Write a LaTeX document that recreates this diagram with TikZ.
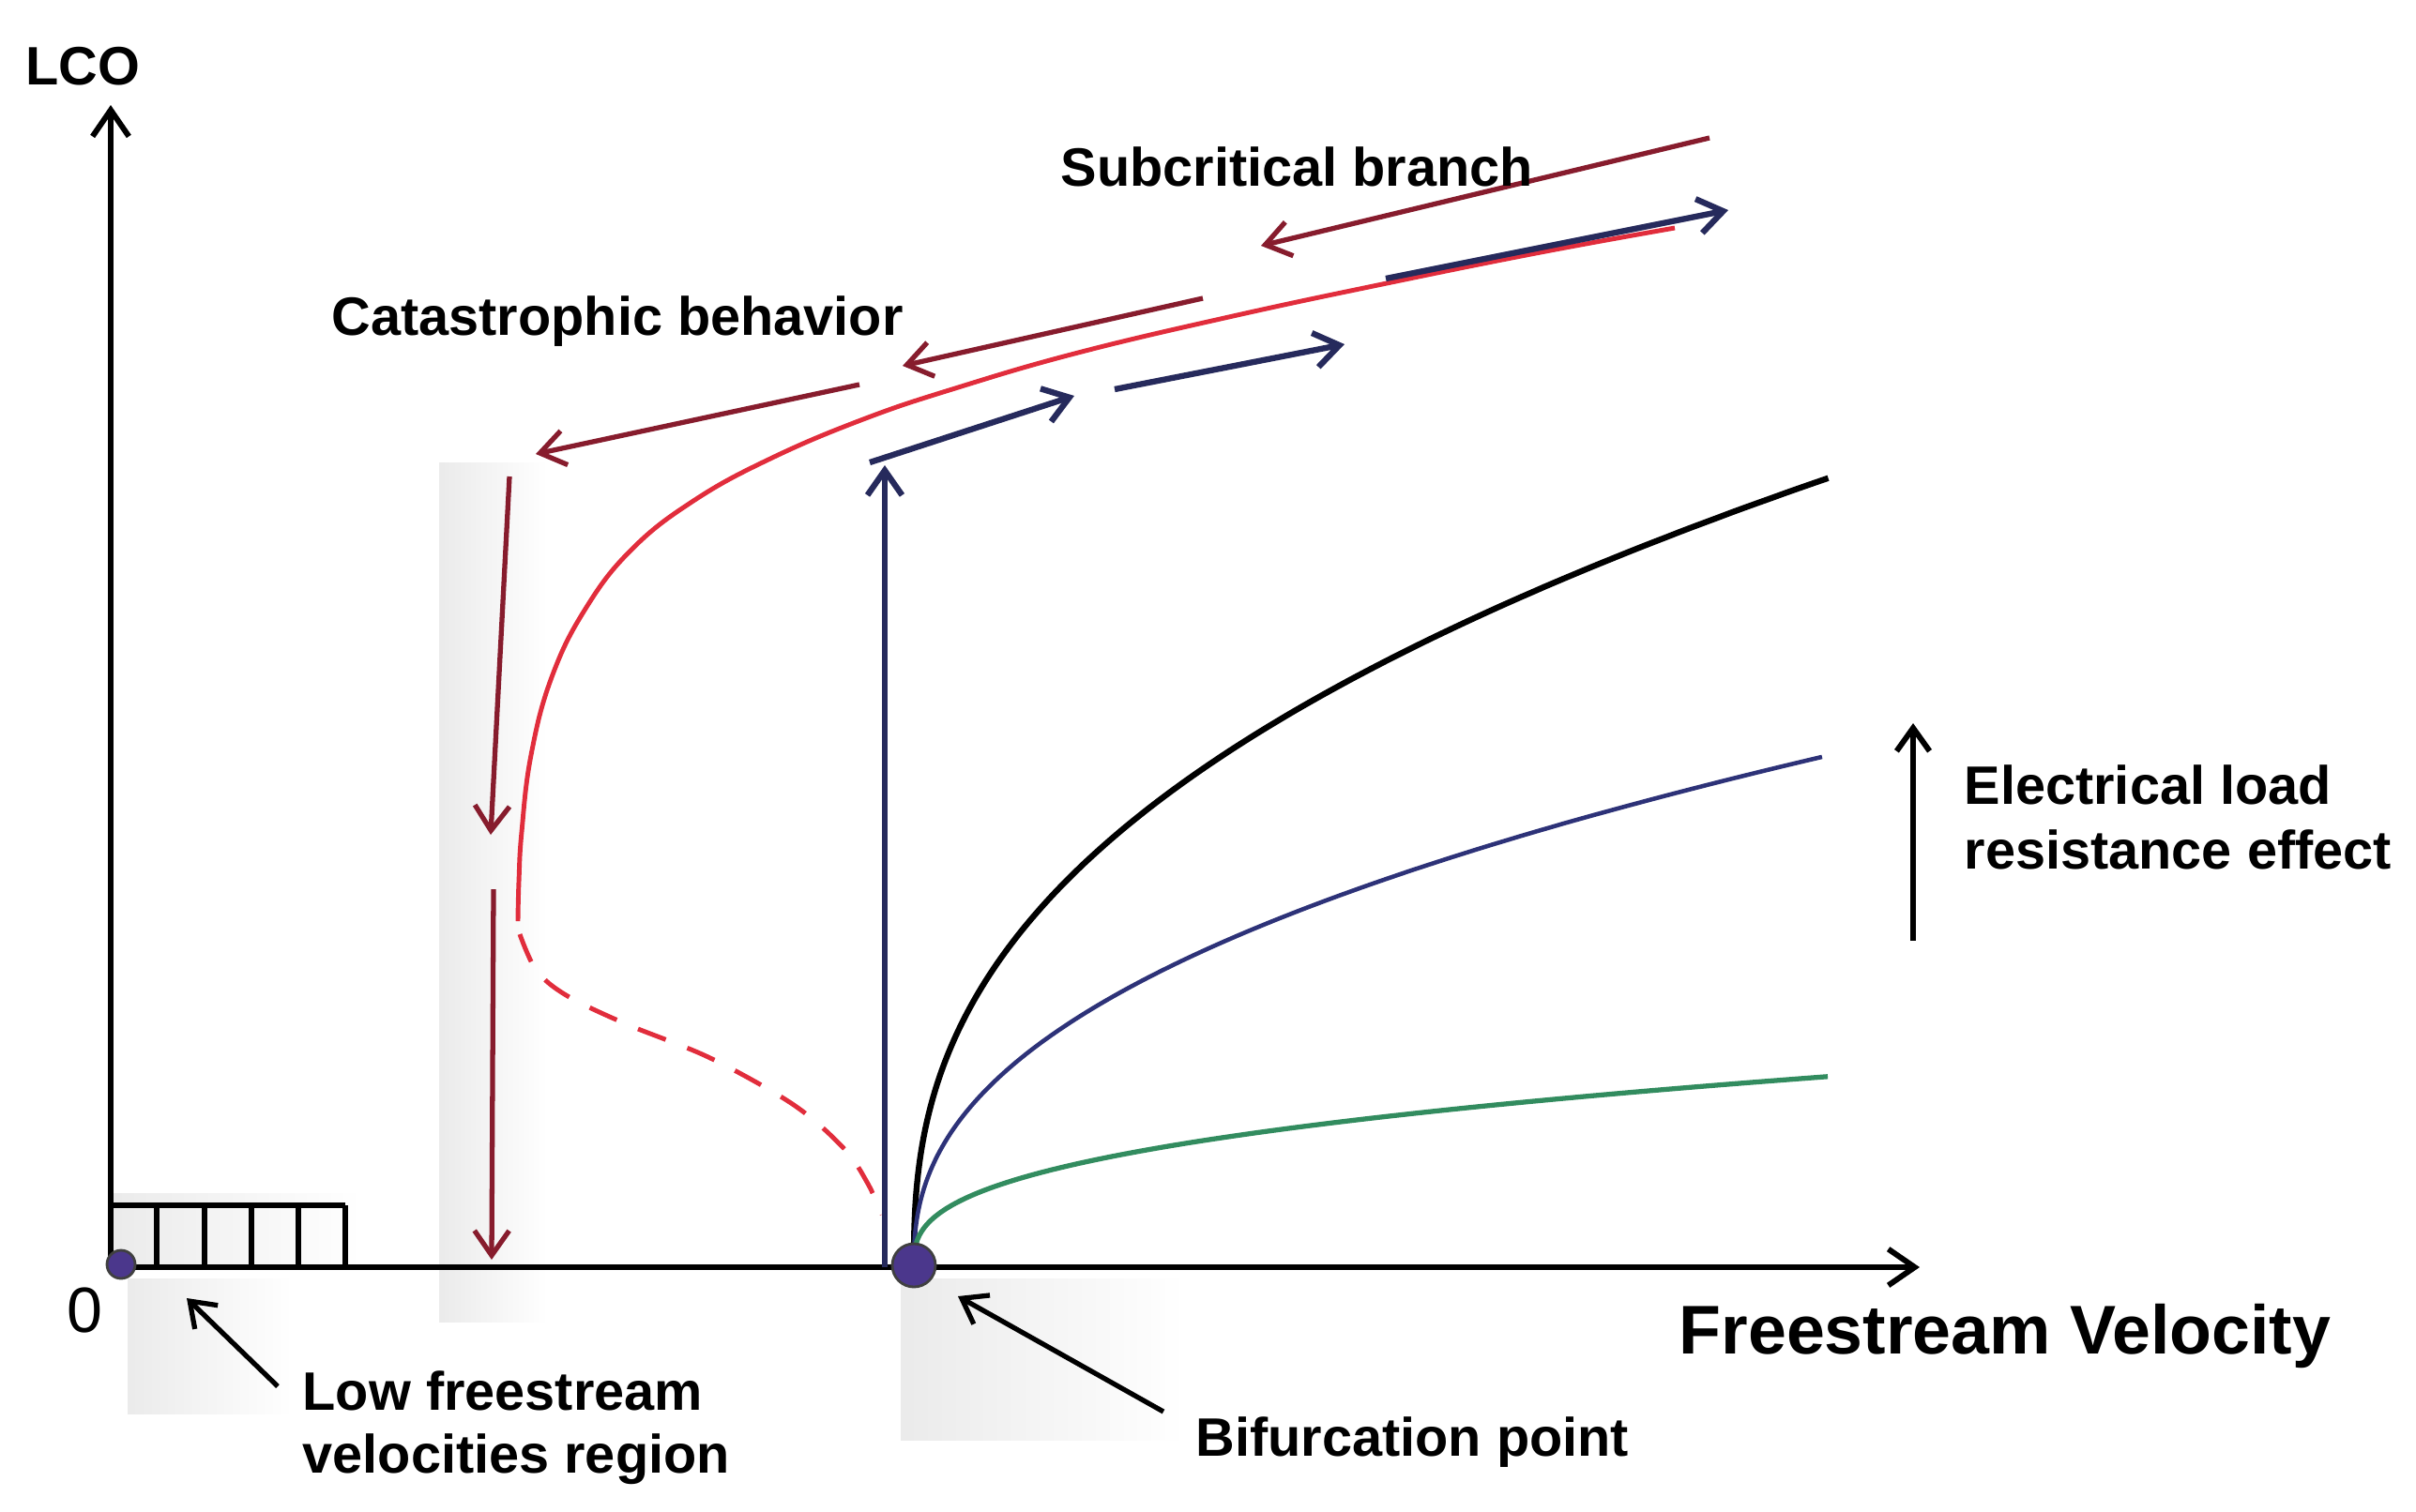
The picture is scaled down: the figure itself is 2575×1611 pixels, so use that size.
\documentclass[tikz,border=0pt]{standalone}
\usepackage{fontspec}
\setmainfont{Liberation Sans}
\usetikzlibrary{arrows.meta}
\definecolor{redcurve}{RGB}{225,45,60}
\definecolor{maroonarr}{RGB}{135,28,45}
\definecolor{navyarr}{RGB}{38,42,92}
\definecolor{bluecurve}{RGB}{45,50,120}
\definecolor{greencurve}{RGB}{50,140,95}
\definecolor{dotfill}{RGB}{75,55,140}
\begin{document}
\begin{tikzpicture}[x=0.01cm,y=-0.01cm,
  lbl/.style={inner sep=0pt, anchor=base west, font=\fontsize{16.4}{19}\selectfont\bfseries},
  axisarr/.style={line width=1.7pt, -{Straight Barb[length=8pt,width=11pt]}},
  redarr/.style={draw=maroonarr, line width=1.5pt, -{Straight Barb[length=7.5pt,width=10.5pt]}},
  bluearr/.style={draw=navyarr, line width=1.8pt, -{Straight Barb[length=7.5pt,width=10.5pt]}},
  blackarr/.style={line width=1.5pt, -{Straight Barb[length=7pt,width=10pt]}},
  haze/.style={left color=black!8, right color=white, draw=none},
  dotstyle/.style={circle, fill=dotfill, draw=black!75, line width=0.8pt, inner sep=0pt},
]
\useasboundingbox (0,0) rectangle (2575,1611);

% faint grey haze patches
\shade[haze] (136,1363) rectangle (312,1507);
\shade[haze] (118,1272) rectangle (385,1350);
\shade[haze] (468,493) rectangle (583,1409);
\shade[haze] (960,1363) rectangle (1264,1535);

% coordinates
\coordinate (O) at (118,1351);
\coordinate (ytip) at (118,112);
\coordinate (xtip) at (2046,1351);
\coordinate (bifc) at (974,1349);

% hatched low-velocity box
\draw[line width=1.5pt] (118,1285) -- (368,1285);
\foreach \xx in {167,218,268,318,368}
  \draw[line width=1.5pt] (\xx,1285) -- (\xx,1351);

% axes
\draw[axisarr] (O) -- (ytip);
\draw[axisarr] (O) -- (xtip);

% LCO curves
\draw[redcurve, line width=1.4pt] plot[smooth, tension=0.7] coordinates {(552,982) (553,940) (556,887) (566,805) (588,722) (624,649) (673,586) (739,534) (821,489) (920,447) (1018,414) (1149,376) (1314,337) (1478,302) (1642,269) (1785,243)};
\draw[redcurve, line width=1.4pt, dash pattern=on 9pt off 7pt] plot[smooth, tension=0.55] coordinates {(554,996) (572,1035) (605,1062) (668,1092) (757,1128) (846,1178) (900,1225) (925,1262) (940,1295)};
\draw[black, line width=1.8pt] plot[domain=0.01:15.69, samples=160, variable=\t] ({974+\t^2.5},{1349-53.5*\t});
\draw[bluecurve, line width=1.3pt] plot[domain=0.01:17.95, samples=160, variable=\t] ({974+\t^2.381},{1349-30.2*\t});
\draw[greencurve, line width=1.5pt] plot[domain=0.01:11.91, samples=160, variable=\t] ({974+\t^2.778},{1349-16.9*\t});

% maroon arrows
\coordinate (subA) at (1822,147);  \coordinate (subB) at (1344,262);
\coordinate (catA) at (1282,318);  \coordinate (catB) at (962,390);
\coordinate (catC) at (916,410);   \coordinate (catD) at (571,484);
\coordinate (dnA) at (543,508);    \coordinate (dnB) at (523,890);
\coordinate (dnC) at (526,948);    \coordinate (dnD) at (524,1343);
\draw[redarr] (subA) -- (subB);
\draw[redarr] (catA) -- (catB);
\draw[redarr] (catC) -- (catD);
\draw[redarr] (dnA) -- (dnB);
\draw[redarr] (dnC) -- (dnD);

% navy arrows
\coordinate (upA) at (943,1351);   \coordinate (upB) at (943,496);
\coordinate (b1A) at (927,493);    \coordinate (b1B) at (1145,422);
\coordinate (b2A) at (1188,415);   \coordinate (b2B) at (1433,367);
\coordinate (b3A) at (1477,297);   \coordinate (b3B) at (1842,224);
\draw[bluearr] (upA) -- (upB);
\draw[bluearr] (b1A) -- (b1B);
\draw[bluearr] (b2A) -- (b2B);
\draw[bluearr] (b3A) -- (b3B);

% dots
\node[dotstyle, minimum size=0.3cm] (odot) at (129,1348) {};
\node[dotstyle, minimum size=0.46cm] (bdot) at (bifc) {};

% black annotation arrows
\coordinate (lowA) at (296,1478);  \coordinate (lowB) at (199,1384);
\coordinate (bifA) at (1240,1505); \coordinate (bifB) at (1021,1382);
\coordinate (elA) at (2039,1003);  \coordinate (elB) at (2039,771);
\draw[blackarr] (lowA) -- (lowB);
\draw[blackarr] (bifA) -- (bifB);
\draw[blackarr, line width=1.7pt] (elA) -- (elB);

% texts
\node[lbl] (lco) at (27,90) {LCO};
\node[inner sep=0pt, anchor=base west, font=\fontsize{19.4}{22}\selectfont] (zero) at (71,1420) {0};
\node[lbl] (cat) at (353,357) {Catastrophic behavior};
\node[lbl] (sub) at (1130,198) {Subcritical branch};
\node[lbl] (low1) at (322,1503) {Low freestream};
\node[lbl] (low2) at (322,1570) {velocities region};
\node[lbl] (bif) at (1274,1552) {Bifurcation point};
\node[lbl, font=\fontsize{20.9}{24}\selectfont\bfseries] (fv) at (1789,1443) {Freestream Velocity};
\node[lbl] (el1) at (2093,857) {Electrical load};
\node[lbl] (el2) at (2093,926) {resistance effect};
\end{tikzpicture}
\end{document}
